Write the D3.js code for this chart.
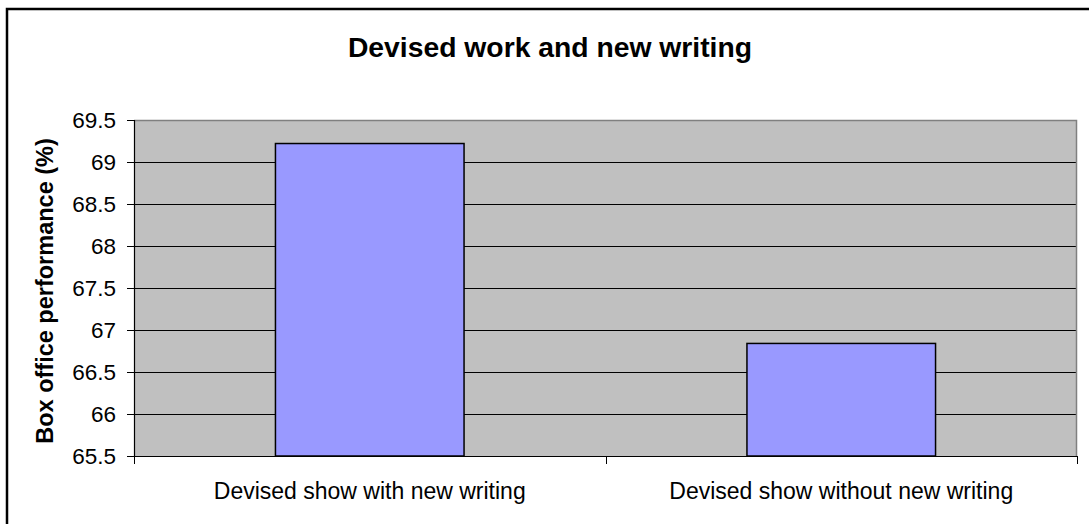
<!DOCTYPE html>
<html>
<head>
<meta charset="utf-8">
<script src="https://cdn.jsdelivr.net/npm/d3@7"></script>
<style>
  html, body { margin: 0; padding: 0; background: #fff; }
  svg { display: block; font-family: "Liberation Sans", Arial, sans-serif; }
</style>
</head>
<body>
<svg id="chart" width="1089" height="524"></svg>
<script>
// Box office performance by show type
const categories = ["Devised show with new writing", "Devised show without new writing"];
const values = [69.22, 66.84];
const yTicks = [65.5, 66, 66.5, 67, 67.5, 68, 68.5, 69, 69.5];
const titleText = "Devised work and new writing";
const yTitle = "Box office performance (%)";

const svg = d3.select("#chart");
const plot = { left: 134, top: 120, right: 1077, bottom: 456 };

// Outer chart frame (runs past the right and bottom edges)
svg.append("rect")
  .attr("x", 7).attr("y", 9)
  .attr("width", 1200).attr("height", 600)
  .attr("fill", "none").attr("stroke", "#000").attr("stroke-width", 2.5);

const x = d3.scaleBand()
  .domain(categories)
  .range([plot.left, plot.right])
  .paddingInner(0.6)
  .paddingOuter(0.3);

const y = d3.scaleLinear()
  .domain([65.5, 69.5])
  .range([plot.bottom, plot.top]);

// Plot area background
svg.append("rect")
  .attr("x", plot.left).attr("y", plot.top)
  .attr("width", plot.right - plot.left).attr("height", plot.bottom - plot.top)
  .attr("fill", "#C0C0C0");

// Horizontal gridlines
svg.append("g")
  .selectAll("line")
  .data(yTicks.filter(t => t > 65.5 && t < 69.5))
  .join("line")
  .attr("x1", plot.left).attr("x2", plot.right)
  .attr("y1", d => Math.round(y(d)) + 0.5).attr("y2", d => Math.round(y(d)) + 0.5)
  .attr("stroke", "#000").attr("stroke-width", 1);

// Plot area border: grey top and right edges
svg.append("path")
  .attr("d", `M${plot.left},${plot.top + 0.5}H${plot.right - 0.5}V${plot.bottom}`)
  .attr("fill", "none").attr("stroke", "#808080").attr("stroke-width", 1.5);

// Bars
svg.append("g")
  .selectAll("rect")
  .data(values)
  .join("rect")
  .attr("x", (d, i) => x(categories[i]))
  .attr("y", d => y(d))
  .attr("width", x.bandwidth())
  .attr("height", d => plot.bottom - y(d))
  .attr("fill", "#9999FF")
  .attr("stroke", "#000").attr("stroke-width", 1.5);

// Y axis
const yAxis = svg.append("g")
  .attr("transform", `translate(${plot.left},0)`)
  .call(d3.axisLeft(y).tickValues(yTicks).tickSize(7).tickPadding(11)
    .tickFormat(d => d3.format("~g")(d)));
yAxis.select(".domain").attr("stroke", "#000").attr("stroke-width", 1.2);
yAxis.selectAll(".tick line").attr("stroke", "#000");
yAxis.selectAll("text")
  .attr("font-size", 22.5).attr("fill", "#000")
  .attr("font-family", "'Liberation Sans', Arial, sans-serif");

// X axis: ticks sit on category boundaries
const xAxisG = svg.append("g")
  .attr("transform", `translate(0,${plot.bottom})`);
xAxisG.append("line")
  .attr("x1", plot.left).attr("x2", plot.right)
  .attr("y1", 0.5).attr("y2", 0.5)
  .attr("stroke", "#000").attr("stroke-width", 1.2);
const step = x.step();
const boundaries = [plot.left].concat(categories.map(c => x(c) + x.bandwidth() / 2 + step / 2));
xAxisG.selectAll("line.tick")
  .data(boundaries)
  .join("line")
  .attr("class", "tick")
  .attr("x1", d => Math.round(d) + 0.5).attr("x2", d => Math.round(d) + 0.5)
  .attr("y1", 0).attr("y2", 8)
  .attr("stroke", "#000");
xAxisG.selectAll("text")
  .data(categories)
  .join("text")
  .attr("x", d => x(d) + x.bandwidth() / 2)
  .attr("y", 43)
  .attr("text-anchor", "middle")
  .attr("font-size", 23)
  .attr("fill", "#000")
  .text(d => d);

// Title
svg.append("text")
  .attr("x", 550).attr("y", 57)
  .attr("text-anchor", "middle")
  .attr("font-size", 28.3).attr("font-weight", "bold")
  .text(titleText);

// Y axis title
svg.append("text")
  .attr("transform", `translate(53,291) rotate(-90)`)
  .attr("text-anchor", "middle")
  .attr("font-size", 23.5).attr("font-weight", "bold")
  .text(yTitle);
</script>
</body>
</html>
